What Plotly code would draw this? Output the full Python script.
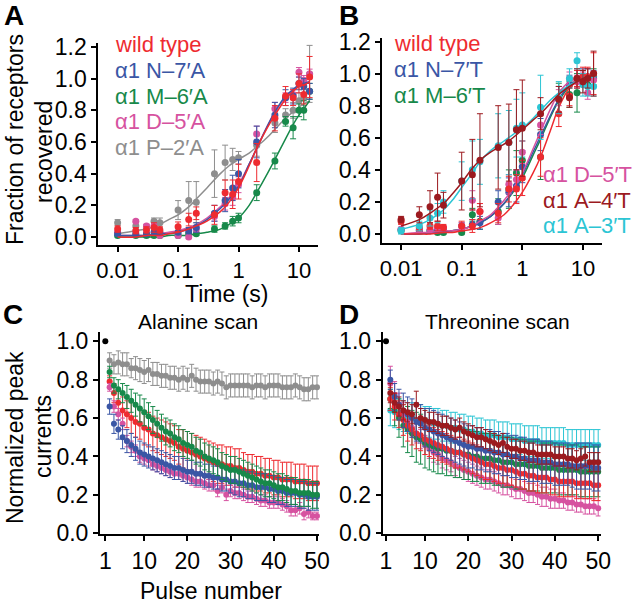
import plotly.graph_objects as go

W, H = 640, 606
FONT = "Arial, 'Liberation Sans', Helvetica, sans-serif"

RED = "#ee2b30"
BLUE = "#3a56a5"
GREEN = "#17894a"
PINK = "#d652a0"
GRAY = "#8e8e8e"
DKRED = "#9c1a1f"
CYAN = "#2cc5d4"

# ---------------- Panels A / B : recovery vs time ----------------
times = [0.01, 0.02, 0.03, 0.04, 0.05, 0.1, 0.15, 0.2, 0.4, 0.6, 0.8, 1, 2, 4, 6, 8, 10, 12, 15]
fit_times = [0.01, 0.02, 0.03, 0.05, 0.07, 0.1, 0.15, 0.2, 0.3, 0.5, 0.7, 1, 1.5, 2, 3, 4, 6, 8, 10, 12, 15]

a_wt = [0.05, 0.04, 0.045, 0.06, 0.045, 0.065, 0.11, 0.15, 0.14, 0.28, 0.27, 0.35, 0.47, 0.75, 0.89, 0.88, 0.97, 0.90, 1.01]
a_wt_err = [0.02, 0.02, 0.02, 0.03, 0.02, 0.03, 0.04, 0.04, 0.06, 0.08, 0.09, 0.11, 0.12, 0.08, 0.06, 0.05, 0.06, 0.06, 0.13]
a_n7 = [0.02, 0.02, 0.02, 0.03, 0.03, 0.03, 0.04, 0.06, 0.15, 0.23, 0.31, 0.40, 0.60, 0.77, 0.88, 0.89, 0.97, 0.95, 0.92]
a_n7_err = [0.01, 0.01, 0.01, 0.01, 0.01, 0.01, 0.02, 0.03, 0.05, 0.07, 0.08, 0.09, 0.10, 0.08, 0.05, 0.05, 0.04, 0.05, 0.05]
a_m6 = [0.01, 0.01, 0.01, 0.01, 0.01, 0.01, 0.02, 0.02, 0.05, 0.07, 0.10, 0.12, 0.28, 0.48, 0.73, 0.69, 0.80, 0.80, 0.92]
a_m6_err = [0.01, 0.01, 0.01, 0.01, 0.01, 0.01, 0.01, 0.01, 0.02, 0.02, 0.03, 0.03, 0.05, 0.05, 0.03, 0.07, 0.04, 0.06, 0.05]
a_d5 = [0.03, 0.10, 0.07, 0.07, 0.01, 0.01, 0.00, 0.05, 0.13, 0.21, 0.25, 0.33, 0.65, 0.81, 0.88, 0.90, 1.04, 0.99, 1.03]
a_d5_err = [0.01, 0.01, 0.01, 0.01, 0.01, 0.01, 0.01, 0.02, 0.03, 0.04, 0.05, 0.05, 0.05, 0.04, 0.03, 0.03, 0.03, 0.03, 0.03]
a_p2 = [0.09, 0.07, 0.06, 0.10, 0.09, 0.17, 0.23, 0.22, 0.40, 0.47, 0.49, 0.50, 0.58, 0.72, 0.77, 0.80, 0.86, 0.88, 1.03]
a_p2_err = [0.02, 0.02, 0.02, 0.02, 0.03, 0.06, 0.12, 0.13, 0.15, 0.11, 0.07, 0.04, 0.07, 0.06, 0.04, 0.05, 0.05, 0.05, 0.18]

a_wt_fit = [0.00, 0.00, 0.01, 0.01, 0.02, 0.03, 0.05, 0.07, 0.10, 0.16, 0.22, 0.31, 0.45, 0.56, 0.69, 0.77, 0.87, 0.92, 0.95, 0.96, 0.98]
a_n7_fit = [0.01, 0.01, 0.01, 0.02, 0.02, 0.03, 0.05, 0.07, 0.11, 0.18, 0.24, 0.32, 0.46, 0.56, 0.70, 0.79, 0.89, 0.93, 0.96, 0.97, 0.98]
a_d5_fit = [0.01, 0.01, 0.01, 0.02, 0.03, 0.04, 0.06, 0.08, 0.12, 0.19, 0.25, 0.33, 0.46, 0.56, 0.70, 0.79, 0.88, 0.93, 0.96, 0.97, 0.98]
a_m6_fit = [0.00, 0.00, 0.00, 0.00, 0.01, 0.01, 0.01, 0.02, 0.03, 0.05, 0.08, 0.12, 0.20, 0.28, 0.40, 0.49, 0.62, 0.71, 0.77, 0.81, 0.86]
a_p2_fit = [0.02, 0.04, 0.05, 0.08, 0.11, 0.14, 0.19, 0.24, 0.31, 0.40, 0.45, 0.49, 0.53, 0.57, 0.63, 0.68, 0.75, 0.79, 0.82, 0.84, 0.86]

b_wt = [0.08, 0.04, 0.05, 0.05, 0.04, 0.05, 0.05, 0.14, 0.13, 0.28, 0.28, 0.35, 0.48, 0.75, 0.86, 0.97, 0.98, 0.98, 1.00]
b_wt_err = [0.02, 0.02, 0.02, 0.03, 0.02, 0.03, 0.04, 0.05, 0.06, 0.08, 0.09, 0.11, 0.12, 0.08, 0.06, 0.05, 0.06, 0.06, 0.13]
b_n7 = [0.03, 0.02, 0.02, 0.03, 0.03, 0.05, 0.06, 0.07, 0.20, 0.26, 0.30, 0.42, 0.62, 0.84, 0.93, 0.97, 0.98, 0.98, 0.97]
b_n7_err = [0.01, 0.01, 0.01, 0.01, 0.01, 0.02, 0.03, 0.04, 0.07, 0.09, 0.10, 0.10, 0.10, 0.08, 0.06, 0.05, 0.05, 0.05, 0.05]
b_m6 = [0.02, 0.02, 0.02, 0.01, 0.01, 0.01, 0.12, 0.08, 0.14, 0.28, 0.38, 0.46, 0.48, 0.84, 0.87, 0.88, 0.97, 0.93, 0.98]
b_m6_err = [0.01, 0.01, 0.01, 0.01, 0.01, 0.01, 0.04, 0.05, 0.08, 0.12, 0.14, 0.12, 0.14, 0.10, 0.08, 0.12, 0.05, 0.06, 0.05]
b_d5 = [0.03, 0.03, 0.03, 0.04, 0.04, 0.05, 0.21, 0.14, 0.10, 0.31, 0.34, 0.51, 0.68, 0.85, 0.97, 0.95, 0.97, 0.88, 0.96]
b_d5_err = [0.01, 0.01, 0.01, 0.01, 0.01, 0.02, 0.06, 0.05, 0.04, 0.06, 0.06, 0.07, 0.06, 0.05, 0.04, 0.04, 0.04, 0.04, 0.04]
b_a4 = [0.09, 0.12, 0.17, 0.23, 0.18, 0.33, 0.37, 0.46, 0.54, 0.57, 0.65, 0.66, 0.75, 0.84, 0.85, 0.97, 0.95, 0.97, 1.00]
b_a4_err = [0.02, 0.05, 0.10, 0.15, 0.08, 0.18, 0.22, 0.29, 0.26, 0.24, 0.25, 0.30, 0.10, 0.08, 0.06, 0.06, 0.07, 0.06, 0.14]
b_a3 = [0.02, 0.05, 0.10, 0.13, 0.20, 0.33, 0.40, 0.45, 0.55, 0.57, 0.66, 0.68, 0.79, 0.85, 0.97, 1.08, 0.93, 0.92, 0.92]
b_a3_err = [0.02, 0.03, 0.05, 0.06, 0.07, 0.12, 0.18, 0.14, 0.20, 0.20, 0.18, 0.20, 0.20, 0.10, 0.06, 0.05, 0.07, 0.06, 0.06]

b_wt_fit = [0.00, 0.00, 0.00, 0.01, 0.01, 0.02, 0.03, 0.04, 0.07, 0.12, 0.18, 0.26, 0.38, 0.48, 0.66, 0.79, 0.91, 0.95, 0.97, 0.98, 0.99]
b_n7_fit = [0.00, 0.00, 0.01, 0.01, 0.02, 0.03, 0.05, 0.07, 0.11, 0.19, 0.27, 0.37, 0.51, 0.61, 0.75, 0.84, 0.93, 0.96, 0.98, 0.98, 0.99]
b_m6_fit = [0.00, 0.00, 0.01, 0.01, 0.02, 0.03, 0.05, 0.07, 0.11, 0.19, 0.26, 0.35, 0.49, 0.59, 0.74, 0.83, 0.92, 0.95, 0.97, 0.98, 0.99]
b_d5_fit = [0.00, 0.01, 0.01, 0.02, 0.02, 0.03, 0.05, 0.08, 0.12, 0.21, 0.28, 0.38, 0.53, 0.64, 0.79, 0.88, 0.95, 0.97, 0.98, 0.98, 0.99]
b_a4_fit = [0.05, 0.09, 0.13, 0.19, 0.25, 0.32, 0.41, 0.46, 0.51, 0.56, 0.60, 0.65, 0.71, 0.75, 0.82, 0.87, 0.92, 0.95, 0.97, 0.98, 0.99]
b_a3_fit = [0.03, 0.06, 0.09, 0.15, 0.21, 0.29, 0.38, 0.45, 0.52, 0.58, 0.62, 0.66, 0.72, 0.77, 0.84, 0.88, 0.93, 0.95, 0.97, 0.97, 0.98]

# ---------------- Panels C / D : normalized peak currents vs pulse ----------------
pulses = list(range(2, 51))
first_pulse = [1]
first_value = [1.0]

c_p2 = [0.90, 0.88, 0.89, 0.88, 0.88, 0.86, 0.86, 0.85, 0.84,
        0.85, 0.83, 0.83, 0.82, 0.82, 0.81, 0.81, 0.80, 0.81, 0.80,
        0.82, 0.80, 0.79, 0.79, 0.79, 0.78, 0.79, 0.78, 0.76, 0.77,
        0.77, 0.77, 0.77, 0.77, 0.76, 0.77, 0.77, 0.76, 0.77, 0.77,
        0.77, 0.76, 0.76, 0.76, 0.77, 0.76, 0.75, 0.75, 0.76, 0.76]
c_p2_err = [0.04, 0.05, 0.06, 0.06, 0.06, 0.05, 0.06, 0.06, 0.06,
            0.06, 0.06, 0.06, 0.06, 0.06, 0.06, 0.06, 0.06, 0.06, 0.06,
            0.06, 0.06, 0.06, 0.06, 0.06, 0.06, 0.06, 0.06, 0.06, 0.06,
            0.06, 0.06, 0.06, 0.06, 0.06, 0.06, 0.06, 0.06, 0.06, 0.06,
            0.06, 0.06, 0.06, 0.06, 0.06, 0.06, 0.06, 0.06, 0.06, 0.06]
c_wt = [0.79, 0.73, 0.68, 0.64, 0.62, 0.60, 0.58, 0.57, 0.55,
        0.54, 0.52, 0.51, 0.50, 0.49, 0.48, 0.47, 0.45, 0.44, 0.43,
        0.42, 0.41, 0.40, 0.39, 0.38, 0.37, 0.36, 0.36, 0.35, 0.35,
        0.34, 0.34, 0.33, 0.32, 0.32, 0.31, 0.31, 0.30, 0.30, 0.29,
        0.29, 0.28, 0.28, 0.28, 0.27, 0.27, 0.27, 0.26, 0.26, 0.26]
c_wt_err = [0.03, 0.05, 0.06, 0.07, 0.07, 0.08, 0.08, 0.08, 0.09,
            0.09, 0.09, 0.09, 0.09, 0.09, 0.09, 0.09, 0.09, 0.10, 0.10,
            0.10, 0.10, 0.10, 0.10, 0.10, 0.10, 0.10, 0.10, 0.10, 0.10,
            0.10, 0.10, 0.09, 0.09, 0.09, 0.09, 0.09, 0.09, 0.09, 0.09,
            0.09, 0.09, 0.09, 0.09, 0.09, 0.09, 0.09, 0.09, 0.09, 0.09]
c_m6 = [0.84, 0.77, 0.75, 0.73, 0.71, 0.69, 0.67, 0.65, 0.63,
        0.61, 0.59, 0.57, 0.55, 0.53, 0.52, 0.50, 0.49, 0.47, 0.46,
        0.45, 0.43, 0.42, 0.40, 0.39, 0.38, 0.37, 0.35, 0.34, 0.33,
        0.33, 0.32, 0.31, 0.30, 0.29, 0.28, 0.27, 0.26, 0.26, 0.25,
        0.24, 0.24, 0.23, 0.22, 0.22, 0.21, 0.21, 0.21, 0.20, 0.20]
c_m6_err = [0.03, 0.04, 0.05, 0.05, 0.06, 0.06, 0.06, 0.07, 0.07,
            0.07, 0.07, 0.07, 0.07, 0.07, 0.07, 0.07, 0.07, 0.07, 0.07,
            0.07, 0.07, 0.07, 0.07, 0.07, 0.07, 0.07, 0.07, 0.07, 0.07,
            0.07, 0.07, 0.07, 0.07, 0.07, 0.07, 0.07, 0.07, 0.07, 0.07,
            0.07, 0.07, 0.07, 0.07, 0.07, 0.07, 0.07, 0.07, 0.07, 0.07]
c_n7 = [0.66, 0.57, 0.54, 0.50, 0.48, 0.46, 0.44, 0.42, 0.41,
        0.40, 0.39, 0.38, 0.37, 0.36, 0.35, 0.34, 0.34, 0.33, 0.32,
        0.32, 0.31, 0.31, 0.30, 0.30, 0.29, 0.29, 0.28, 0.28, 0.27,
        0.27, 0.26, 0.26, 0.25, 0.25, 0.24, 0.24, 0.24, 0.23, 0.23,
        0.22, 0.22, 0.21, 0.21, 0.21, 0.20, 0.20, 0.19, 0.19, 0.19]
c_n7_err = [0.04, 0.05, 0.05, 0.06, 0.06, 0.06, 0.06, 0.06, 0.06,
            0.06, 0.06, 0.06, 0.06, 0.06, 0.06, 0.06, 0.06, 0.06, 0.06,
            0.06, 0.06, 0.06, 0.06, 0.06, 0.06, 0.06, 0.06, 0.06, 0.06,
            0.07, 0.07, 0.07, 0.07, 0.07, 0.07, 0.07, 0.07, 0.07, 0.07,
            0.07, 0.07, 0.07, 0.07, 0.07, 0.07, 0.07, 0.07, 0.07, 0.07]
c_d5 = [0.76, 0.66, 0.62, 0.57, 0.48, 0.45, 0.43, 0.40, 0.39,
        0.38, 0.36, 0.35, 0.34, 0.33, 0.32, 0.31, 0.31, 0.30, 0.29,
        0.28, 0.27, 0.27, 0.26, 0.25, 0.25, 0.22, 0.24, 0.20, 0.22,
        0.21, 0.21, 0.20, 0.19, 0.19, 0.18, 0.17, 0.17, 0.16, 0.16,
        0.16, 0.15, 0.14, 0.12, 0.12, 0.13, 0.10, 0.11, 0.09, 0.09]
c_d5_err = [0.02, 0.03, 0.03, 0.03, 0.03, 0.03, 0.03, 0.03, 0.03,
            0.03, 0.03, 0.03, 0.03, 0.03, 0.03, 0.03, 0.03, 0.03, 0.03,
            0.03, 0.03, 0.03, 0.03, 0.03, 0.03, 0.03, 0.03, 0.03, 0.03,
            0.03, 0.03, 0.03, 0.03, 0.03, 0.03, 0.03, 0.03, 0.03, 0.03,
            0.03, 0.03, 0.03, 0.03, 0.03, 0.03, 0.03, 0.03, 0.02, 0.02]

d_a4 = [0.73, 0.68, 0.66, 0.64, 0.63, 0.62, 0.67, 0.60, 0.59,
        0.58, 0.58, 0.57, 0.56, 0.56, 0.55, 0.54, 0.55, 0.53, 0.52,
        0.51, 0.50, 0.50, 0.49, 0.48, 0.47, 0.46, 0.47, 0.45, 0.44,
        0.44, 0.43, 0.43, 0.42, 0.42, 0.41, 0.41, 0.41, 0.41, 0.40,
        0.40, 0.40, 0.39, 0.39, 0.38, 0.39, 0.40, 0.37, 0.37, 0.37]
d_a4_err = [0.05, 0.05, 0.05, 0.05, 0.05, 0.05, 0.07, 0.05, 0.05,
            0.05, 0.05, 0.05, 0.05, 0.05, 0.05, 0.05, 0.05, 0.05, 0.05,
            0.05, 0.05, 0.05, 0.05, 0.05, 0.05, 0.05, 0.05, 0.05, 0.05,
            0.05, 0.05, 0.05, 0.05, 0.05, 0.05, 0.05, 0.05, 0.05, 0.05,
            0.05, 0.05, 0.05, 0.05, 0.05, 0.05, 0.05, 0.05, 0.05, 0.05]
d_a3 = [0.64, 0.63, 0.62, 0.61, 0.60, 0.60, 0.59, 0.59, 0.58,
        0.58, 0.57, 0.57, 0.56, 0.56, 0.55, 0.55, 0.54, 0.54, 0.53,
        0.53, 0.52, 0.52, 0.51, 0.51, 0.51, 0.50, 0.50, 0.50, 0.49,
        0.49, 0.49, 0.48, 0.48, 0.48, 0.48, 0.47, 0.47, 0.47, 0.47,
        0.47, 0.47, 0.46, 0.46, 0.46, 0.46, 0.46, 0.46, 0.46, 0.46]
d_a3_err = [0.08, 0.08, 0.08, 0.08, 0.08, 0.08, 0.08, 0.08, 0.08,
            0.08, 0.08, 0.08, 0.08, 0.08, 0.08, 0.08, 0.08, 0.08, 0.08,
            0.08, 0.08, 0.08, 0.08, 0.08, 0.08, 0.08, 0.08, 0.08, 0.08,
            0.08, 0.08, 0.08, 0.08, 0.08, 0.08, 0.08, 0.08, 0.08, 0.08,
            0.08, 0.08, 0.08, 0.08, 0.08, 0.08, 0.08, 0.08, 0.08, 0.08]
d_n7 = [0.80, 0.71, 0.67, 0.64, 0.62, 0.60, 0.58, 0.57, 0.55,
        0.54, 0.53, 0.52, 0.51, 0.50, 0.49, 0.48, 0.47, 0.46, 0.45,
        0.45, 0.44, 0.44, 0.43, 0.43, 0.42, 0.42, 0.41, 0.41, 0.40,
        0.40, 0.39, 0.39, 0.38, 0.38, 0.38, 0.37, 0.37, 0.37, 0.36,
        0.36, 0.36, 0.36, 0.35, 0.35, 0.35, 0.35, 0.35, 0.34, 0.34]
d_n7_err = [0.05, 0.07, 0.08, 0.09, 0.09, 0.10, 0.10, 0.10, 0.10,
            0.11, 0.11, 0.11, 0.11, 0.11, 0.11, 0.11, 0.11, 0.11, 0.11,
            0.11, 0.11, 0.11, 0.11, 0.11, 0.11, 0.11, 0.11, 0.11, 0.11,
            0.11, 0.11, 0.11, 0.11, 0.11, 0.11, 0.11, 0.11, 0.11, 0.11,
            0.11, 0.11, 0.11, 0.11, 0.12, 0.12, 0.12, 0.12, 0.12, 0.12]
d_m6 = [0.70, 0.64, 0.60, 0.56, 0.54, 0.52, 0.50, 0.49, 0.47,
        0.46, 0.45, 0.44, 0.44, 0.43, 0.43, 0.42, 0.42, 0.41, 0.41,
        0.40, 0.40, 0.39, 0.39, 0.39, 0.38, 0.38, 0.37, 0.37, 0.37,
        0.36, 0.36, 0.36, 0.35, 0.35, 0.35, 0.34, 0.34, 0.34, 0.34,
        0.33, 0.33, 0.33, 0.33, 0.33, 0.32, 0.32, 0.32, 0.32, 0.32]
d_m6_err = [0.05, 0.08, 0.10, 0.11, 0.12, 0.12, 0.13, 0.13, 0.13,
            0.13, 0.13, 0.13, 0.13, 0.13, 0.13, 0.13, 0.13, 0.13, 0.13,
            0.13, 0.13, 0.13, 0.13, 0.13, 0.13, 0.13, 0.13, 0.13, 0.13,
            0.13, 0.13, 0.13, 0.13, 0.13, 0.13, 0.13, 0.13, 0.13, 0.13,
            0.13, 0.13, 0.13, 0.13, 0.13, 0.13, 0.13, 0.13, 0.13, 0.13]
d_wt = [0.70, 0.66, 0.62, 0.59, 0.56, 0.54, 0.52, 0.51, 0.49,
        0.48, 0.47, 0.46, 0.45, 0.44, 0.43, 0.42, 0.42, 0.41, 0.40,
        0.39, 0.38, 0.37, 0.36, 0.36, 0.35, 0.34, 0.34, 0.33, 0.33,
        0.32, 0.31, 0.31, 0.30, 0.30, 0.29, 0.29, 0.29, 0.28, 0.28,
        0.27, 0.27, 0.27, 0.27, 0.26, 0.26, 0.26, 0.26, 0.25, 0.25]
d_wt_err = [0.06, 0.07, 0.07, 0.08, 0.08, 0.08, 0.08, 0.08, 0.08,
            0.08, 0.08, 0.08, 0.08, 0.08, 0.08, 0.08, 0.08, 0.08, 0.08,
            0.08, 0.08, 0.08, 0.08, 0.08, 0.08, 0.08, 0.08, 0.08, 0.08,
            0.08, 0.08, 0.08, 0.08, 0.08, 0.08, 0.08, 0.08, 0.08, 0.08,
            0.08, 0.08, 0.08, 0.08, 0.08, 0.08, 0.08, 0.08, 0.08, 0.08]
d_d5 = [0.78, 0.72, 0.67, 0.62, 0.58, 0.55, 0.52, 0.49, 0.46,
        0.44, 0.42, 0.41, 0.39, 0.38, 0.37, 0.35, 0.34, 0.33, 0.32,
        0.31, 0.30, 0.29, 0.28, 0.28, 0.27, 0.26, 0.25, 0.25, 0.24,
        0.23, 0.23, 0.22, 0.21, 0.21, 0.20, 0.19, 0.19, 0.18, 0.18,
        0.17, 0.17, 0.16, 0.16, 0.15, 0.15, 0.14, 0.14, 0.14, 0.13]
d_d5_err = [0.09, 0.07, 0.06, 0.06, 0.05, 0.05, 0.05, 0.05, 0.05,
            0.05, 0.05, 0.05, 0.05, 0.05, 0.05, 0.05, 0.05, 0.05, 0.05,
            0.05, 0.05, 0.05, 0.05, 0.05, 0.05, 0.05, 0.05, 0.05, 0.05,
            0.05, 0.05, 0.05, 0.05, 0.05, 0.05, 0.05, 0.05, 0.05, 0.05,
            0.04, 0.04, 0.04, 0.04, 0.04, 0.04, 0.04, 0.04, 0.04, 0.04]

time_ticks = [0.01, 0.1, 1, 10]
time_ticktext = ["0.01", "0.1", "1", "10"]
pulse_ticks = [1, 10, 20, 30, 40, 50]

fig = go.Figure()


def pts(x, y, err, color, xa, ya, size, cap):
    fig.add_trace(go.Scatter(
        x=x, y=y, mode="markers", xaxis=xa, yaxis=ya,
        marker=dict(color=color, size=size, line=dict(width=0)),
        error_y=dict(type="data", array=err, color=color, thickness=1, width=cap),
        showlegend=False, hoverinfo="skip", cliponaxis=False))


def fit(x, y, color, xa, ya):
    fig.add_trace(go.Scatter(
        x=x, y=y, mode="lines", xaxis=xa, yaxis=ya,
        line=dict(color=color, width=1.5, shape="spline", smoothing=1.0),
        showlegend=False, hoverinfo="skip"))


# Panel A
for ys, es, fs, col in [(a_p2, a_p2_err, a_p2_fit, GRAY), (a_m6, a_m6_err, a_m6_fit, GREEN),
                        (a_d5, a_d5_err, a_d5_fit, PINK), (a_n7, a_n7_err, a_n7_fit, BLUE),
                        (a_wt, a_wt_err, a_wt_fit, RED)]:
    fit(fit_times, fs, col, "x", "y")
    pts(times, ys, es, col, "x", "y", 7, 3)

# Panel B
for ys, es, fs, col in [(b_m6, b_m6_err, b_m6_fit, GREEN), (b_n7, b_n7_err, b_n7_fit, BLUE),
                        (b_d5, b_d5_err, b_d5_fit, PINK), (b_wt, b_wt_err, b_wt_fit, RED),
                        (b_a3, b_a3_err, b_a3_fit, CYAN), (b_a4, b_a4_err, b_a4_fit, DKRED)]:
    fit(fit_times, fs, col, "x2", "y2")
    pts(times, ys, es, col, "x2", "y2", 7, 3)

# Panel C
for ys, es, col in [(c_p2, c_p2_err, GRAY), (c_wt, c_wt_err, RED), (c_d5, c_d5_err, PINK),
                    (c_n7, c_n7_err, BLUE), (c_m6, c_m6_err, GREEN)]:
    pts(pulses, ys, es, col, "x3", "y3", 6, 2.5)
fig.add_trace(go.Scatter(x=first_pulse, y=first_value, mode="markers", xaxis="x3", yaxis="y3",
                         marker=dict(color="black", size=6), showlegend=False, cliponaxis=False))

# Panel D
for ys, es, col in [(d_a3, d_a3_err, CYAN), (d_d5, d_d5_err, PINK), (d_m6, d_m6_err, GREEN),
                    (d_wt, d_wt_err, RED), (d_n7, d_n7_err, BLUE), (d_a4, d_a4_err, DKRED)]:
    pts(pulses, ys, es, col, "x4", "y4", 6, 2.5)
fig.add_trace(go.Scatter(x=first_pulse, y=first_value, mode="markers", xaxis="x4", yaxis="y4",
                         marker=dict(color="black", size=6), showlegend=False, cliponaxis=False))


def fx(p):
    return p / W


def fy(p):
    return 1 - p / H


axis_common = dict(showline=True, linecolor="black", linewidth=2, ticks="outside", ticklen=5,
                   tickwidth=2, tickcolor="black", showgrid=False, zeroline=False, automargin=False,
                   tickfont=dict(family=FONT, size=23, color="black"), fixedrange=True)
small_tick = dict(family=FONT, size=22, color="black")

fig.update_layout(
    template="none",
    width=W, height=H, margin=dict(l=0, r=0, t=0, b=0, pad=0),
    paper_bgcolor="white", plot_bgcolor="white", showlegend=False,
    font=dict(family=FONT, color="black"),
    xaxis=dict(axis_common, type="log", domain=[fx(98.3), fx(318.3)], range=[-2.32, 1.32],
               tickvals=time_ticks, ticktext=time_ticktext, anchor="y", tickfont=small_tick),
    yaxis=dict(axis_common, domain=[fy(245), fy(43)], range=[-0.0505, 1.225],
               tickvals=[0, 0.2, 0.4, 0.6, 0.8, 1.0, 1.2], tickformat=".1f", anchor="x"),
    xaxis2=dict(axis_common, type="log", domain=[fx(382.3), fx(601.7)], range=[-2.31, 1.31],
                tickvals=time_ticks, ticktext=time_ticktext, anchor="y2", tickfont=small_tick),
    yaxis2=dict(axis_common, domain=[fy(242.7), fy(38)], range=[-0.054, 1.222],
                tickvals=[0, 0.2, 0.4, 0.6, 0.8, 1.0, 1.2], tickformat=".1f", anchor="x2"),
    xaxis3=dict(axis_common, domain=[fx(100), fx(319)], range=[-0.23, 50.47],
                tickvals=pulse_ticks, anchor="y3"),
    yaxis3=dict(axis_common, domain=[fy(534), fy(331.7)], range=[-0.004, 1.05],
                tickvals=[0, 0.2, 0.4, 0.6, 0.8, 1.0], tickformat=".1f", anchor="x3"),
    xaxis4=dict(axis_common, domain=[fx(382.7), fx(600.7)], range=[0.24, 50.58],
                tickvals=pulse_ticks, anchor="y4"),
    yaxis4=dict(axis_common, domain=[fy(534), fy(331.7)], range=[-0.004, 1.05],
                tickvals=[0, 0.2, 0.4, 0.6, 0.8, 1.0], tickformat=".1f", anchor="x4"),
)

ann = []


def text(t, x, y, size=22, color="black", xanchor="center", angle=0, bold=False):
    ann.append(dict(text=("<b>%s</b>" % t) if bold else t, x=fx(x), y=fy(y), xref="paper", yref="paper",
                    xanchor=xanchor, yanchor="middle", showarrow=False, textangle=angle,
                    borderpad=0, font=dict(family=FONT, size=size, color=color)))


# panel letters
text("A", 14, 16, size=28, bold=True)
text("B", 349, 16, size=28, bold=True)
text("C", 13, 314, size=28, bold=True)
text("D", 349, 314, size=28, bold=True)

# legends panel A
legA = [("wild type", RED), ("α1 N–7′A", BLUE), ("α1 M–6′A", GREEN), ("α1 D–5′A", PINK), ("α1 P–2′A", GRAY)]
for i, (lab, col) in enumerate(legA):
    text(lab, 114, 45 + 25.5 * i, size=22, color=col, xanchor="left")

# legends panel B
legB_top = [("wild type", RED), ("α1 N–7′T", BLUE), ("α1 M–6′T", GREEN)]
for i, (lab, col) in enumerate(legB_top):
    text(lab, 393, 43 + 26 * i, size=22, color=col, xanchor="left")
legB_bot = [("α1 D–5′T", PINK), ("α1 A–4′T", DKRED), ("α1 A–3′T", CYAN)]
for i, (lab, col) in enumerate(legB_bot):
    text(lab, 542, 174 + 26 * i, size=22, color=col, xanchor="left")

# axis titles
text("Fraction of receptors", 15, 140, size=23, angle=-90)
text("recovered", 44, 152, size=23, angle=-90)
text("Time (s)", 226, 294, size=23)
text("Normalized peak", 15, 438, size=23, angle=-90)
text("currents", 43, 437, size=23, angle=-90)
text("Pulse number", 211, 591, size=23)
text("Alanine scan", 198, 321, size=21)
text("Threonine scan", 497, 321, size=21)

fig.update_layout(annotations=ann)
# let the figure start at the page's top-left corner (no default body margin)
fig.write_html("out.html", config={"displayModeBar": False, "staticPlot": True},
               post_script="document.body.style.margin='0';document.body.style.padding='0';"
                           "document.body.style.overflow='hidden';")
